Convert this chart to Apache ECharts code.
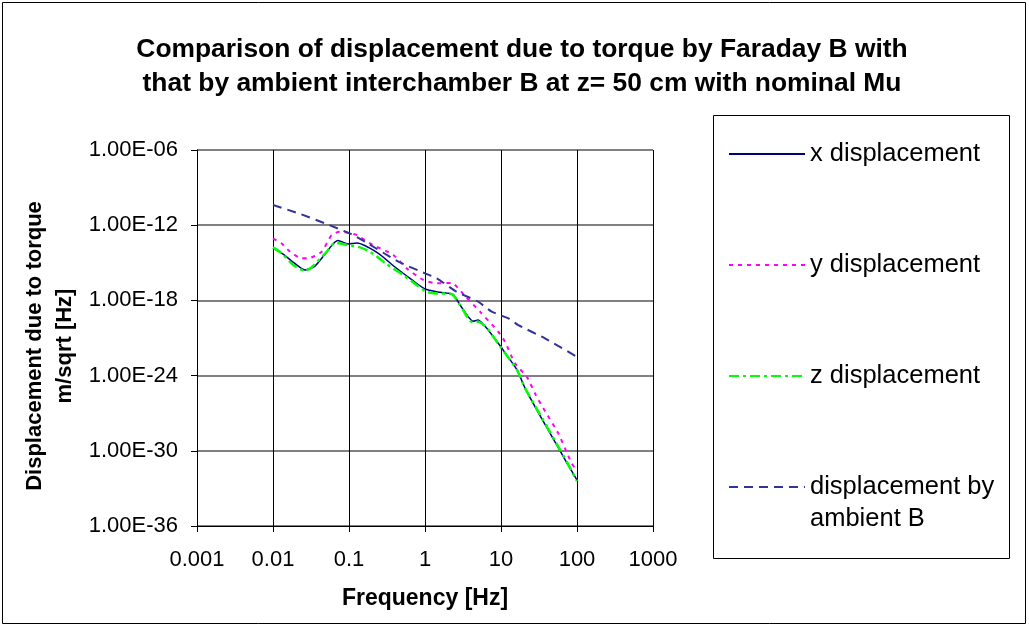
<!DOCTYPE html>
<html>
<head>
<meta charset="utf-8">
<script src="https://cdn.jsdelivr.net/npm/echarts@6/dist/echarts.min.js"></script>
<style>
html,body{margin:0;padding:0;background:#fff;}
#chart{width:1029px;height:627px;}
</style>
</head>
<body>
<div id="chart"></div>
<script>
// ---- data ----
const titleText = 'Comparison of displacement due to torque by Faraday B with\nthat by ambient interchamber B at z= 50 cm with nominal Mu';
const seriesNames = ['x displacement', 'y displacement', 'z displacement', 'displacement by ambient B'];
const xTickLabels = ['0.001', '0.01', '0.1', '1', '10', '100', '1000'];
const yTickLabels = ['1.00E-36', '1.00E-30', '1.00E-24', '1.00E-18', '1.00E-12', '1.00E-06'];
const yTickValues = [1e-36, 1e-30, 1e-24, 1e-18, 1e-12, 1e-6];

const xFreq = [0.01, 0.0136, 0.0183, 0.0264, 0.0357, 0.0483, 0.0616, 0.0716, 0.097, 0.127, 0.241, 0.403, 0.675, 1.0, 1.575, 2.34, 2.89, 4.29, 4.98, 5.97, 7.62, 10, 16.3, 20.7, 30.7, 56.2, 73.8, 100];
const xDisp = [1.5e-14, 5.0e-15, 1.15e-15, 2.63e-16, 5.5e-16, 5.0e-15, 3.16e-14, 6.0e-14, 3.2e-14, 3.8e-14, 6.0e-15, 4.6e-16, 4.3e-17, 8.1e-18, 4.4e-18, 3.0e-18, 4.3e-19, 2.2e-20, 2.7e-20, 1.07e-20, 1.74e-21, 1.9e-22, 2.75e-24, 1.0e-25, 1.23e-27, 2.0e-30, 1.05e-31, 4.6e-33];

const yFreq = [0.01, 0.013, 0.0168, 0.0239, 0.0291, 0.0437, 0.0592, 0.0762, 0.126, 0.189, 0.383, 0.574, 0.95, 1.43, 2.24, 3.36, 5.30, 9.2, 11.3, 15.3, 22.0, 28.0, 36.1, 56.8, 69.5, 85.1, 100];
const yDisp = [8.9e-14, 3.5e-14, 7.6e-15, 2.3e-15, 2.3e-15, 7.6e-15, 1.66e-13, 3.0e-13, 1.66e-13, 3.5e-14, 4.2e-15, 3.6e-16, 4.3e-17, 2.3e-17, 2.45e-17, 2.2e-18, 1.26e-19, 3.16e-21, 5.0e-22, 9.5e-24, 7.6e-25, 3.8e-26, 2.45e-27, 2.45e-29, 1.55e-30, 1.0e-31, 2.4e-32];

const zFreq = [0.01, 0.013, 0.0185, 0.0264, 0.0326, 0.0509, 0.0655, 0.097, 0.14, 0.189, 0.313, 0.518, 0.778, 1.05, 1.43, 2.24, 2.89, 4.15, 5.02, 6.55, 7.62, 10, 16.3, 20.7, 30.7, 56.2, 73.8, 100];
const zDisp = [1.7e-14, 5.75e-15, 6.6e-16, 2.34e-16, 4.6e-16, 7.6e-15, 4.0e-14, 2.6e-14, 1.7e-14, 7.6e-15, 7.9e-16, 1.05e-16, 1.7e-17, 4.9e-18, 3.6e-18, 3.2e-18, 4.3e-19, 1.86e-20, 2.0e-20, 6.2e-21, 1.74e-21, 1.74e-22, 2.75e-24, 1.0e-25, 1.48e-27, 2.4e-30, 1.26e-31, 3.8e-33];

const ambFreq = [0.01, 0.0215, 0.0483, 0.109, 0.163, 0.446, 1.0, 1.43, 2.61, 5.02, 7.55, 12.5, 16.9, 37.9, 100];
const ambDisp = [4.1e-11, 8.9e-12, 1.41e-12, 1.86e-13, 4.8e-14, 1.23e-15, 1.45e-16, 5.75e-17, 4.9e-18, 7.8e-19, 1.26e-19, 3.7e-20, 1.07e-20, 9.3e-22, 3.16e-23];

// ---- chart ----
const FONT = '"Liberation Sans", Arial, Helvetica, sans-serif';
function pairs(f, v) { return f.map((x, i) => [x, v[i]]); }
function xLabel(v) {
  if (!(v > 0)) return '';
  const i = Math.round(Math.log10(v)) + 3;
  return xTickLabels[i] !== undefined ? xTickLabels[i] : '';
}
function yLabel(v) {
  if (!(v > 0)) return '';
  const i = (Math.round(Math.log10(v)) + 36) / 6;
  return yTickLabels[i] !== undefined ? yTickLabels[i] : '';
}

const chart = echarts.init(document.getElementById('chart'), null, { renderer: 'canvas' });
chart.setOption({
  animation: false,
  backgroundColor: '#ffffff',
  title: {
    text: titleText,
    left: 522,
    top: 33,
    padding: 0,
    textAlign: 'center',
    textStyle: { fontFamily: FONT, fontSize: 26.4, fontWeight: 'bold', lineHeight: 34, color: '#000' }
  },
  graphic: [
    { type: 'rect', silent: true, z: -1, shape: { x: 2.5, y: 2.5, width: 1023, height: 621 }, style: { fill: 'none', stroke: '#000', lineWidth: 1 } },
    { type: 'rect', silent: true, z: -1, shape: { x: 713.5, y: 115.5, width: 296, height: 443 }, style: { fill: 'none', stroke: '#000', lineWidth: 1 } }
  ],
  legend: {
    orient: 'vertical',
    left: 728,
    top: 106,
    padding: 0,
    itemWidth: 76,
    itemHeight: 14,
    itemGap: 15,
    selectedMode: false,
    itemStyle: { opacity: 0 },
    textStyle: { fontFamily: FONT, fontSize: 25.5, lineHeight: 32, color: '#000' },
    data: seriesNames,
    formatter: function (name) {
      return name === seriesNames[3] ? '\ndisplacement by\nambient B' : '\n' + name + '\n';
    }
  },
  grid: { left: 197, top: 150, width: 456, height: 376, containLabel: false, outerBoundsMode: 'none' },
  xAxis: {
    type: 'log',
    logBase: 10,
    min: 0.001,
    max: 1000,
    interval: 1,
    name: 'Frequency [Hz]',
    nameLocation: 'middle',
    nameGap: 60,
    nameMoveOverlap: false,
    nameTextStyle: { fontFamily: FONT, fontSize: 23, fontWeight: 'bold', color: '#000', lineHeight: 26 },
    axisLine: { show: true, lineStyle: { color: '#000', width: 1 } },
    axisTick: { show: true, inside: false, length: 6, lineStyle: { color: '#000' } },
    axisLabel: { fontFamily: FONT, fontSize: 22, color: '#000', margin: 23, formatter: xLabel, showMinLabel: true, showMaxLabel: true, hideOverlap: false },
    splitLine: { show: true, lineStyle: { color: '#000', width: 1 } }
  },
  yAxis: {
    type: 'log',
    logBase: 10,
    min: 0.9999e-36,
    max: 1e-6,
    interval: 6,
    name: 'Displacement due to torque\nm/sqrt [Hz]',
    nameLocation: 'middle',
    nameRotate: 90,
    nameGap: 117,
    nameMoveOverlap: false,
    nameTextStyle: { fontFamily: FONT, fontSize: 22, fontWeight: 'bold', color: '#000', lineHeight: 30, padding: [0, 16, 0, 0] },
    axisLine: { show: true, lineStyle: { color: '#000', width: 1 } },
    axisTick: { show: true, inside: false, length: 6, lineStyle: { color: '#000' }, customValues: yTickValues },
    axisLabel: { fontFamily: FONT, fontSize: 22, color: '#000', margin: 19, formatter: yLabel, customValues: yTickValues, showMinLabel: true, showMaxLabel: true, hideOverlap: false },
    splitLine: { show: true, lineStyle: { color: '#808080', width: 2 } }
  },
  series: [
    { name: seriesNames[0], type: 'line', data: pairs(xFreq, xDisp), symbol: 'none', smooth: 0.2,
      lineStyle: { color: '#000080', width: 1.5, type: 'solid' }, itemStyle: { color: '#000080' } },
    { name: seriesNames[1], type: 'line', data: pairs(yFreq, yDisp), symbol: 'none', smooth: 0.2,
      lineStyle: { color: '#FF00FF', width: 2, type: [4, 5] }, itemStyle: { color: '#FF00FF' } },
    { name: seriesNames[2], type: 'line', data: pairs(zFreq, zDisp), symbol: 'none', smooth: 0.2,
      lineStyle: { color: '#00FF00', width: 2.5, type: [10, 4, 3, 4] }, itemStyle: { color: '#00FF00' } },
    { name: seriesNames[3], type: 'line', data: pairs(ambFreq, ambDisp), symbol: 'none', smooth: 0.2,
      lineStyle: { color: '#333399', width: 2, type: [9, 6] }, itemStyle: { color: '#333399' } }
  ]
});
</script>
</body>
</html>
